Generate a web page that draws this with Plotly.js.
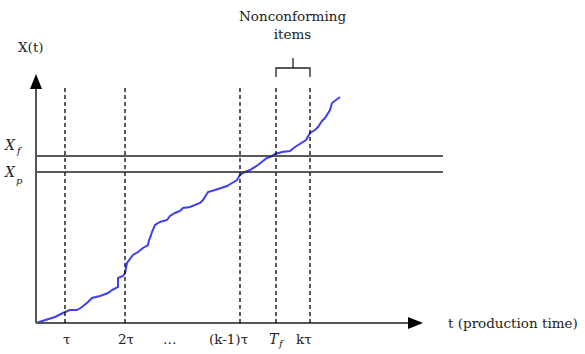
<!DOCTYPE html>
<html><head><meta charset="utf-8">
<script src="https://cdn.plot.ly/plotly-3.0.1.min.js"></script>
<style>html,body{margin:0;padding:0;background:#fff}#chart{width:585px;height:354px}</style>
</head><body><div id="chart"></div>
<script>
// Process path X(t)
const tVals = [0,9,19,29,34,41,46,52,56,64,72,76,82,82,87,89,91,97,102,107,112,113,114,116,119,124,131,134,139,144,147,154,159,164,167,170,172,179,186,191,196,201,204,209,214,219,222,227,231,236,239,246,254,259,266,270,274,279,282,286,289,292,294,296,300,304];
const xVals = [0,3,6,11,13,13,16,21,25,27,30,33,36,45,47,50,60,68,71,75,78,83,85,91,98,101,103,107,110,112,115,116,118,120,123,128,131,133,135,137,140,143,148,151,153,156,158,162,165,167,169,171,172,176,181,183,190,193,196,202,205,210,213,220,223,226];
// Inspection times and labels
const tickPos = [30, 90, 134, 192, 268];
const tickLabels = ['τ', '2τ', '…', '(k-1)τ', 'kτ'];
const tfPos = 238;
const dashedPos = [29, 89, 204, 240, 274];
// Thresholds
const levelVals = [167, 151];
const levelSubs = ['f', 'p'];

const font = {family: 'DejaVu Serif', size: 13.5, color: '#222'};
const ital = {family: 'DejaVu Serif', size: 14, color: '#222', style: 'italic'};
const sub = {family: 'DejaVu Serif', size: 10, color: '#222', style: 'italic'};
const shapes = [];
// axes
shapes.push({type:'line', x0:0, y0:0, x1:0, y1:236, line:{color:'#555', width:2}});
shapes.push({type:'line', x0:0, y0:0, x1:374, y1:0, line:{color:'#555', width:2}});
shapes.push({type:'path', path:'M -6,234 L 6,234 L 0,249 Z', fillcolor:'#000', line:{width:0}});
shapes.push({type:'path', path:'M 372,-6 L 372,6 L 387,0 Z', fillcolor:'#000', line:{width:0}});
// dashed
dashedPos.forEach(p => shapes.push({type:'line', x0:p, x1:p, y0:0, y1:238, line:{color:'#000', width:1.3, dash:'4px,3px'}}));
// levels
levelVals.forEach(v => shapes.push({type:'line', x0:1, x1:407, y0:v, y1:v, line:{color:'#222', width:1.3}}));
// bracket
shapes.push({type:'path', path:'M 240,246 L 240,255 L 274,255 L 274,246 M 257,255 L 257,265', line:{color:'#222', width:1.3}});

const annotations = [];
tickPos.forEach((p,i) => annotations.push({x:p, y:-16, text:tickLabels[i], showarrow:false, font:font, xanchor:'center', yanchor:'middle'}));
annotations.push({x:tfPos, y:-16, text:'T', showarrow:false, font:ital, xanchor:'center', yanchor:'middle', borderpad:0});
annotations.push({x:tfPos+7, y:-20, text:'f', showarrow:false, font:sub, xanchor:'center', yanchor:'middle', borderpad:0});
const levelY = [[178,173],[151,143]];
levelVals.forEach((v,i) => {
  annotations.push({x:-26, y:levelY[i][0], text:'X', showarrow:false, font:ital, xanchor:'center', yanchor:'middle', borderpad:0});
  annotations.push({x:-16.5, y:levelY[i][1], text:levelSubs[i], showarrow:false, font:sub, xanchor:'center', yanchor:'middle', borderpad:0});
});
annotations.push({x:-5, y:276, text:'X(t)', showarrow:false, font:font, xanchor:'center', yanchor:'middle'});
annotations.push({x:410, y:0, text:'t (production time)', showarrow:false, font:font, xanchor:'left', yanchor:'middle'});
annotations.push({x:256, y:298, text:'Nonconforming<br>items', showarrow:false, font:font, xanchor:'center', yanchor:'middle'});

Plotly.newPlot('chart', [{
  x: tVals, y: xVals, type:'scatter', mode:'lines',
  line:{color:'#3f3ff0', width:2}, hoverinfo:'skip'
}], {
  width:585, height:354, margin:{l:0,r:0,t:0,b:0},
  paper_bgcolor:'#fff', plot_bgcolor:'#fff', showlegend:false,
  xaxis:{range:[-36,549], visible:false, fixedrange:true},
  yaxis:{range:[-31,323], visible:false, fixedrange:true},
  shapes:shapes, annotations:annotations
}, {displayModeBar:false, staticPlot:true});
</script></body></html>
